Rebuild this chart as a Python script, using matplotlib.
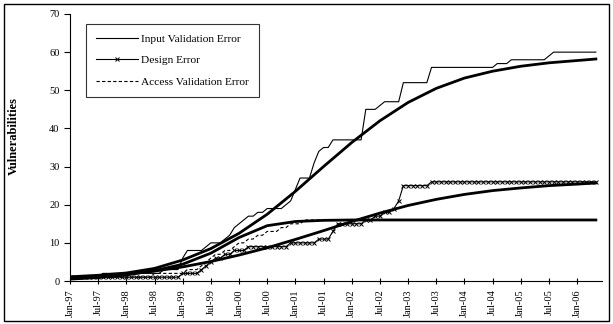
import matplotlib
matplotlib.use('Agg')
from matplotlib import pyplot as plt
from matplotlib.patches import Rectangle

# months since Jan-97 (one point per month, Jan-97 .. May-06)
months = list(range(113))

tick_labels = ['Jan-97', 'Jul-97', 'Jan-98', 'Jul-98', 'Jan-99', 'Jul-99', 'Jan-00', 'Jul-00',
               'Jan-01', 'Jul-01', 'Jan-02', 'Jul-02', 'Jan-03', 'Jul-03', 'Jan-04', 'Jul-04',
               'Jan-05', 'Jul-05', 'Jan-06']

input_validation = [1, 1, 1, 1, 1, 1, 1,
                    2, 2, 2, 2, 2, 2, 2, 2, 2, 2, 2, 2, 2,
                    3, 3, 3, 3, 6, 8, 8, 8, 8,
                    9, 10, 10, 10, 11, 12, 14, 15, 16, 17, 17, 18, 18, 19, 19, 19, 19, 20, 21, 24,
                    27, 27, 27, 31, 34, 35, 35, 37,
                    37, 37, 37, 37, 37, 37,
                    45, 45, 45, 46, 47, 47, 47, 47, 52, 52, 52, 52, 52, 52,
                    56, 56, 56, 56, 56, 56, 56, 56, 56, 56, 56, 56, 56, 56,
                    57, 57, 57, 58, 58, 58, 58, 58, 58, 58, 58, 59,
                    60, 60, 60, 60, 60, 60, 60, 60, 60, 60]

design = [1, 1, 1, 1, 1, 1, 1, 1, 1, 1, 1, 1, 1, 1, 1, 1, 1, 1, 1, 1, 1, 1, 1, 1,
          2, 2, 2, 2, 3, 4, 5, 6, 6, 7, 7, 8, 8, 8, 9,
          9, 9, 9, 9, 9, 9, 9, 9,
          10, 10, 10, 10, 10, 10, 11, 11, 11, 13, 15,
          15, 15, 15, 15, 15,
          16, 16, 17, 17, 18, 18, 19, 21, 25,
          25, 25, 25, 25, 25,
          26, 26, 26, 26, 26, 26, 26, 26, 26, 26, 26, 26, 26, 26, 26, 26, 26, 26,
          26, 26, 26, 26, 26, 26, 26, 26, 26, 26, 26, 26, 26, 26, 26, 26, 26, 26]

access_validation = [1, 1, 1, 1, 1, 1, 1, 1, 1, 1, 1, 1, 1, 1, 1, 1, 1, 1,
                     2, 2, 2, 2, 2, 2, 2, 3, 3, 3,
                     4, 5, 6, 7, 7, 8, 8, 9, 10, 10, 11, 11, 12, 12, 13, 13, 13, 14, 14, 15, 15, 15,
                     16, 16, 16, 16, 16, 16, 16, 16, 16, 16, 16, 16, 16, 16, 16, 16, 16, 16, 16, 16, 16,
                     16, 16, 16, 16, 16, 16, 16, 16, 16, 16, 16, 16, 16, 16, 16, 16, 16, 16, 16, 16, 16,
                     16, 16, 16, 16, 16, 16, 16, 16, 16, 16, 16, 16, 16, 16, 16, 16, 16, 16, 16, 16, 16]

# fitted trend curves, read every 6 months
fit_months = [0, 6, 12, 18, 24, 30, 36, 42, 48, 54, 60, 66, 72, 78, 84, 90, 96, 102, 108, 112]
input_fit = [1.1, 1.5, 2.1, 3.3, 5.5, 8.5, 12.5, 17.5, 23.5, 30.0, 36.3, 42.0, 46.8, 50.5, 53.2,
             55.0, 56.3, 57.2, 57.8, 58.2]
design_fit = [0.8, 1.2, 1.8, 2.6, 3.7, 5.1, 6.8, 8.7, 10.9, 13.2, 15.6, 17.8, 19.8, 21.4, 22.7,
              23.7, 24.4, 25.0, 25.4, 25.7]
access_fit = [0.5, 0.9, 1.6, 2.7, 4.4, 7.3, 11.4, 14.5, 15.6, 15.9, 16.0, 16.0, 16.0, 16.0, 16.0,
              16.0, 16.0, 16.0, 16.0, 16.0]

plt.rcParams['font.family'] = 'Liberation Serif'

fig = plt.figure(figsize=(6.13, 3.24), dpi=100)
fig.patches.append(Rectangle((0.006, 0.008), 0.988, 0.98, transform=fig.transFigure,
                             fill=False, edgecolor='black', linewidth=1))
ax = fig.add_axes([0.1142, 0.1327, 0.8678, 0.8241])

ax.plot(months, input_validation, color='black', linewidth=0.8, label='Input Validation Error')
ax.plot(months, design, color='black', linewidth=0.8, marker='x', markersize=2.5,
        markeredgewidth=0.7, label='Design Error')
ax.plot(months, access_validation, color='black', linewidth=0.8, linestyle=(0, (3, 2)),
        label='Access Validation Error')

ax.plot(fit_months, input_fit, color='black', linewidth=2.0)
ax.plot(fit_months, design_fit, color='black', linewidth=2.0)
ax.plot(fit_months, access_fit, color='black', linewidth=2.0)

ax.set_xlim(0, 113.3)
ax.set_ylim(0, 70)
ax.set_yticks(range(0, 71, 10))
ax.set_xticks(range(0, 109, 6))
ax.set_xticklabels(tick_labels, rotation=90, fontsize=7.5)
ax.tick_params(axis='y', labelsize=7.5, direction='out', length=4, width=0.8)
ax.tick_params(axis='x', direction='inout', length=5, width=0.8)
ax.spines['top'].set_visible(False)
ax.spines['right'].set_visible(False)
ax.set_ylabel('Vulnerabilities', fontsize=9, fontweight='bold')
ax.yaxis.set_label_coords(-0.094, 0.543)

leg = ax.legend(loc='upper left', bbox_to_anchor=(0.03, 0.963), borderaxespad=0, fontsize=8.2,
                handlelength=3.7, labelspacing=1.0, fancybox=False, edgecolor='black',
                borderpad=0.9, handletextpad=0.2)
leg.get_frame().set_linewidth(0.8)

fig.savefig('out.png', dpi=100)
